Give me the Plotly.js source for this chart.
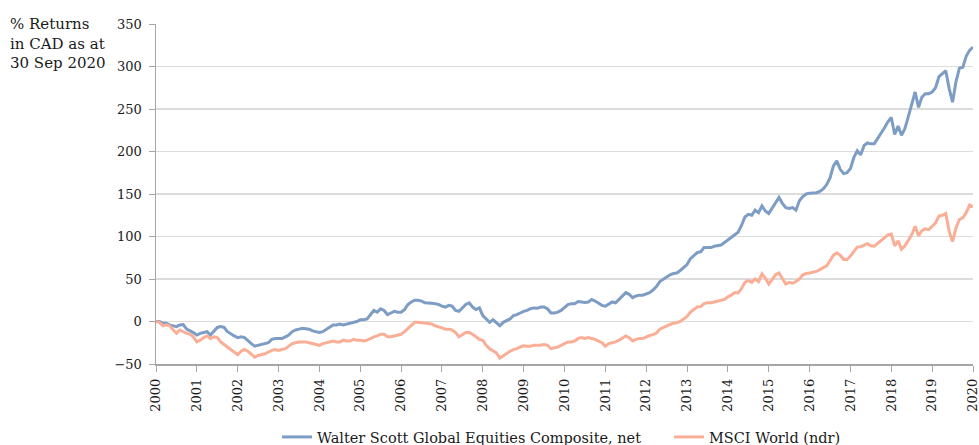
<!DOCTYPE html>
<html>
<head>
<meta charset="utf-8">
<script src="https://cdn.plot.ly/plotly-3.0.1.min.js"></script>
<style>html,body{margin:0;padding:0;background:#fff;}#chart{width:979px;height:445px;}</style>
</head>
<body>
<div id="chart"></div>
<script>
// Monthly cumulative % returns, Jan 2000 .. Jan 2020
const walterScott = [
  0, 0, -2, -2, -4, -5, -6, -4, -3.6, -9, -11, -13,
  -16, -14, -13, -12, -16, -11, -7, -6, -7, -12, -15, -17,
  -19, -18, -19, -23, -26, -29, -28, -27, -26, -25, -21, -20,
  -20, -20, -18, -16, -12, -10, -9, -8, -8.5, -9, -11, -12,
  -13, -12, -9, -7, -4, -4, -3, -4, -3, -2, -1, 0,
  2, 2, 3, 8, 13, 11, 15, 13, 8, 10, 12, 11,
  11, 14, 20, 23, 25, 25, 24, 22, 22, 21.5, 21, 20,
  18, 17, 19, 18, 13, 12, 16, 20, 22, 17, 14, 16,
  7, 3, -1, 2, -2, -5, -1, 1, 3, 7, 8, 10,
  12, 13, 15, 16, 15.5, 17, 17, 15, 10, 10, 11, 13,
  16, 20, 21, 21, 23.5, 23, 22.5, 23, 26, 24, 21, 19,
  18, 21, 23, 22, 26, 31, 34, 32, 28, 30, 31, 31,
  32.5, 34, 37, 41, 47, 50, 52.5, 55, 56.5, 57, 60, 64,
  67, 74, 78, 81, 82, 87, 87, 87, 88.5, 89, 90, 93,
  96, 99, 103, 105, 113, 123, 126, 125, 131, 128, 136, 130,
  127, 133, 139, 146, 139, 134, 133, 134, 131, 142, 147, 150,
  151, 151, 151.5, 153, 156, 161, 169, 183, 189, 179, 174, 175,
  180, 193, 201, 196, 207, 210, 209, 209, 215, 221, 228, 235,
  240, 220, 230, 219, 227, 241, 257, 270, 252, 264, 268, 268,
  270, 275, 288, 292, 295, 274, 258, 282, 298, 299, 312, 319,
  323
];
const msciWorld = [
  0, -1, -5, -4, -5, -9, -14, -10, -12, -14, -15, -18,
  -24, -22, -19, -17, -20, -18, -19, -24, -27, -30, -32, -35,
  -39, -35, -33, -35, -39, -42, -40, -39, -38, -36, -34, -33,
  -34, -33, -32, -29, -26, -25, -24, -24, -24, -25, -26, -27,
  -28, -26, -25, -24, -23, -24, -24, -22, -23, -23, -21, -22,
  -22, -23, -22, -20, -18, -17, -15, -15, -18, -18, -17, -16,
  -15, -12, -8, -5, -1, -1, -1.5, -1.5, -2, -3, -5, -6,
  -7.5, -9, -9, -10, -13, -18, -15, -13, -13, -15, -18, -21,
  -22, -28, -32, -35, -37, -43, -40, -38, -35, -33, -32, -30,
  -28.5, -29, -29, -28, -28, -28, -27, -28, -32, -31, -30, -28,
  -26, -24, -24, -23, -20, -19, -20, -19, -20, -21, -23, -25,
  -29, -26, -25, -24, -22, -19, -17, -19, -23, -21, -20, -20,
  -18, -16.5, -15.5, -13.5, -9, -7, -5.5, -3.5, -2, -1.5, 0, 3,
  6, 11, 14.5, 17, 17.5, 21, 22, 22, 23, 24, 25, 26,
  29, 31, 34, 33.5, 39, 46, 48, 46, 50, 47, 56, 51,
  44, 50, 55, 57, 50, 44, 46, 45, 47, 50, 55, 56.5,
  57, 58, 59, 61, 63.5, 65.5, 71.5, 78, 80.5, 78, 73, 73,
  77, 83, 87.5, 88, 90, 91.5, 89, 88.5, 92, 95, 99, 102,
  103, 89, 95, 85, 89, 96, 102, 112, 101, 107, 109, 108,
  112, 116, 124, 125, 127, 106, 94, 110, 120, 122, 128, 137,
  135
];
const seriesNames = ["Walter Scott Global Equities Composite, net", "MSCI World (ndr)"];
const yearTicks = [2000,2001,2002,2003,2004,2005,2006,2007,2008,2009,2010,2011,2012,2013,2014,2015,2016,2017,2018,2019,2020];
const yTicks = [-50, 0, 50, 100, 150, 200, 250, 300, 350];

const months = walterScott.map((_, i) => 2000 + i / 12);

const FONT = "DejaVu Serif";
const TXT = "#1a1a1a";

const traces = [
  {x: months, y: walterScott, name: seriesNames[0], type: "scatter", mode: "lines",
   line: {color: "rgb(125,157,196)", width: 3}},
  {x: months, y: msciWorld, name: seriesNames[1], type: "scatter", mode: "lines",
   line: {color: "rgb(250,174,150)", width: 3}}
];

// plot area: x 156..973 px, y 24..364 px
const layout = {
  width: 979, height: 445,
  margin: {l: 156, r: 6, t: 24, b: 81, autoexpand: false},
  paper_bgcolor: "#fff", plot_bgcolor: "#fff",
  font: {family: FONT, size: 13, color: TXT},
  showlegend: true,
  legend: {orientation: "h", x: (277 - 156) / 817, xanchor: "left", y: (364 - 437) / 340, yanchor: "middle",
           font: {family: FONT, size: 14.5, color: TXT}, itemwidth: 30, entrywidth: 347},
  xaxis: {range: [2000, 2020], tickmode: "array", tickvals: yearTicks, ticktext: yearTicks.map(String),
          tickangle: -90, ticks: "outside", ticklen: 6, tickcolor: "#a6a6a6", tickwidth: 1,
          showline: true, linecolor: "#a6a6a6", linewidth: 1.5, showgrid: false, zeroline: false,
          ticklabeloverflow: "allow", ticklabelstandoff: 2,
          tickfont: {family: FONT, size: 13, color: TXT}, fixedrange: true},
  yaxis: {range: [-50, 350], tickmode: "array", tickvals: yTicks, ticks: "outside", ticklen: 6,
          tickcolor: "#a6a6a6", showline: true, linecolor: "#a6a6a6", linewidth: 1.5,
          showgrid: true, gridcolor: "#dcdcdc", gridwidth: 1.5, zeroline: false,
          tickfont: {family: FONT, size: 13, color: TXT}, ticklabelstandoff: 4, fixedrange: true},
  annotations: [{
    text: "% Returns<br>in CAD as at<br>30 Sep 2020", showarrow: false, align: "left",
    xref: "paper", yref: "paper", x: -148 / 817, xanchor: "left", y: 1 + 11 / 340, yanchor: "top",
    font: {family: FONT, size: 15, color: TXT}
  }]
};

Plotly.newPlot("chart", traces, layout, {displayModeBar: false, staticPlot: true});
</script>
</body>
</html>
